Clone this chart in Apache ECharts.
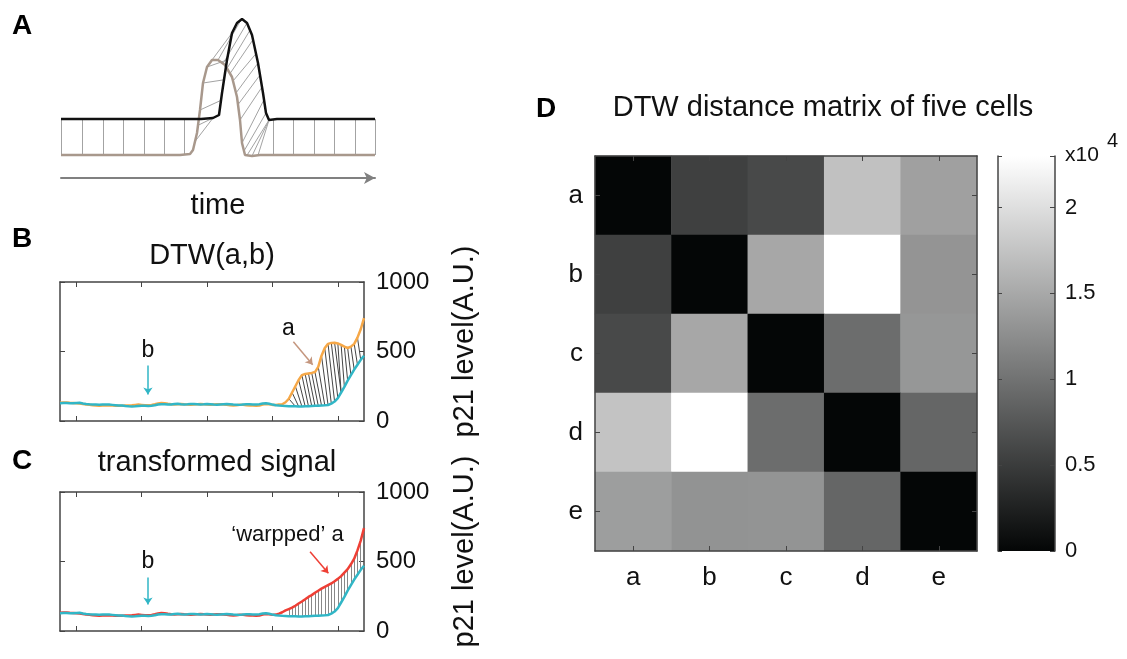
<!DOCTYPE html>
<html>
<head>
<meta charset="utf-8">
<title>DTW figure</title>
<script src="https://cdn.jsdelivr.net/npm/echarts@6/dist/echarts.min.js"></script>
<style>
  html, body { margin: 0; padding: 0; background: #fff; }
  #main { width: 1127px; height: 659px; }
</style>
</head>
<body>
<div id="main"></div>
<script>
// ---- panel A: two toy signals [time, level] and their matching (brown time -> black time)
var toyBlack = [[0,41],[140,41],[152,42],[158,45],[161,67],[166,100],[171,127],[176,137],[181,141],[186,137],[191,125],[197,97],[202,67],[205,47],[208,40],[216,41],[314,41]];
var toyBrown = [[0,5],[119,5],[129,6],[132,10],[136,27],[139,50],[142,77],[146,93],[151,100],[157,100],[164,95],[171,83],[176,63],[179,40],[181,17],[184,5],[191,4],[199,5],[314,5]];
var toyPath = [[0,0],[21,21],[42,42],[62,62],[83,83],[103,103],[123,123],[134,152],[137,157],[139,160],[142,163],[146,166],[151,171],[157,180],[162,186],[166,189],[169,192],[172,195],[175,197],[177,199],[179,201],[181,203],[183,205],[186,208],[191,208],[197,208],[212,212],[232,232],[253,253],[273,273],[294,294],[314,314]];

// ---- panels B, C: p21 level per frame
var signalB = [128,129,130,128,127,129,131,126,122,120,
  119,118,117,118,119,118,116,114,112,111,
  108,106,105,106,108,110,109,108,110,113,
  119,121,120,118,119,122,124,121,119,120,
  122,123,121,119,120,122,121,118,117,119,
  121,122,120,118,117,116,119,121,120,118,
  118,121,126,128,124,118,114,111,109,108,
  107,106,106,105,105,106,107,108,109,110,
  112,113,115,125,140,165,205,245,290,330,
  370,405,440,470];
var signalA = [132,134,133,131,130,128,125,122,119,117,
  114,112,110,111,113,112,111,110,109,110,
  112,111,113,116,118,116,114,113,116,120,
  126,130,128,124,121,119,121,123,120,118,
  117,119,121,122,120,118,117,119,121,120,
  118,116,113,112,114,117,116,114,112,111,
  110,112,118,122,120,116,116,118,120,135,
  160,205,250,295,330,338,342,346,352,390,
  470,525,555,562,563,558,548,535,525,535,
  555,600,660,740];
var signalAWarped = [132,134,133,131,130,128,125,122,119,117,
  114,112,110,111,113,112,111,110,109,110,
  112,111,113,116,118,116,114,113,116,120,
  126,130,128,124,121,119,121,123,120,118,
  117,119,121,122,120,118,117,119,121,120,
  118,116,113,112,114,117,116,114,112,111,
  110,112,118,122,120,116,118,125,135,148,
  158,168,182,198,212,228,245,258,275,290,
  305,318,330,342,358,375,395,420,445,480,
  520,580,650,740];
var pathB = [[70,72],[71,73],[72,74],[73,75],[74,76],[75,77],[76,78],[77,79],[78,80],[79,81],[80,82],[81,83],[82,84],[83,85],[84,86],[85,86],[86,87],[87,88],[88,89],[89,90],[90,91],[91,92]];
var pathC = [70,71,72,73,74,75,76,77,78,79,80,81,82,83,84,85,86,87,88,89,90,91,92];
var frameTicks = [5, 25, 45, 65, 85];

// annotation anchors [frame, level]
var noteB = { b: [26.9, 505], bArrow: [[26.9, 400], [26.9, 190]], a: [69.9, 662], aArrow: [[71.4, 570], [77.3, 405]] };
var noteC = { b: [26.9, 500], bArrow: [[26.9, 385], [26.9, 190]], a: [69.6, 690], aArrow: [[76.5, 570], [82.1, 415]] };

// ---- panel D: DTW distance matrix
var cells = ['a', 'b', 'c', 'd', 'e'];
var dtwMatrix = [
  [0, 5400, 6200, 17300, 14250],
  [5400, 0, 14900, 23000, 13150],
  [6200, 14900, 0, 9550, 13400],
  [17500, 23000, 9550, 0, 8850],
  [14050, 13000, 13100, 8850, 0]
];
var colorbarMax = 23000;

var FONT = '"Liberation Sans", Arial, Helvetica, sans-serif';
var CYAN = '#31b6c6', ORANGE = '#f6a848', RED = '#ee3f35', TAN = '#c4967e';
var FRAME = { show: true, onZero: false, lineStyle: { color: '#444', width: 1.5 } };

function lerpCurve(curve, x) {
  for (var i = 1; i < curve.length; i++) {
    if (x <= curve[i][0]) {
      var p = curve[i - 1], q = curve[i];
      return p[1] + (q[1] - p[1]) * (x - p[0]) / (q[0] - p[0]);
    }
  }
  return curve[curve.length - 1][1];
}
function indexed(arr) {
  return arr.map(function(v, i) { return [i, v]; });
}

var toyLines = toyPath.map(function(p) {
  return { coords: [[p[0], lerpCurve(toyBrown, p[0])], [p[1], lerpCurve(toyBlack, p[1])]] };
});
var hatchB = pathB.map(function(p) {
  return { coords: [[p[0], signalA[p[0]]], [p[1], signalB[p[1]]]] };
});
var hatchC = pathC.map(function(i) {
  return { coords: [[i, signalAWarped[i]], [i, signalB[i]]] };
});
var heatData = [];
for (var r = 0; r < cells.length; r++) {
  for (var c = 0; c < cells.length; c++) {
    heatData.push([c, r, dtwMatrix[r][c]]);
  }
}

function frameAxis(grid, pos) {
  return {
    type: 'value', gridIndex: grid, position: pos, min: 0, max: 93,
    axisLine: FRAME,
    axisTick: { show: true, inside: true, length: 5, customValues: frameTicks, lineStyle: { color: '#444' } },
    axisLabel: { show: false }, splitLine: { show: false }
  };
}
function levelAxis(grid, pos, named) {
  var ax = {
    type: 'value', gridIndex: grid, position: pos, min: 0, max: 1000, interval: 500,
    axisLine: FRAME,
    axisTick: { show: true, inside: true, length: 5, lineStyle: { color: '#444' } },
    axisLabel: { show: named, margin: 12, fontSize: 24, color: '#111', fontFamily: FONT,
      formatter: function(v) { return String(v); } },
    splitLine: { show: false }
  };
  if (named) {
    ax.name = 'p21 level(A.U.)';
    ax.nameLocation = 'middle';
    ax.nameRotate = 90;
    ax.nameGap = 86;
    ax.nameTextStyle = { fontSize: 29, color: '#111', fontFamily: FONT, padding: [0, 0, 0, 20] };
  }
  return ax;
}
function hatch(data, x, y, color) {
  return { type: 'lines', coordinateSystem: 'cartesian2d', xAxisIndex: x, yAxisIndex: y, silent: true, z: 1,
    lineStyle: { color: color, width: 1, opacity: 1 }, data: data };
}
function noteLines(note, colorB, colorA, x, y) {
  return {
    type: 'lines', coordinateSystem: 'cartesian2d', xAxisIndex: x, yAxisIndex: y,
    symbol: ['none', 'arrow'], symbolSize: 7, silent: true, z: 4,
    data: [
      { coords: note.bArrow, lineStyle: { color: colorB, width: 1.5, opacity: 1 } },
      { coords: note.aArrow, lineStyle: { color: colorA, width: 1.5, opacity: 1 } }
    ]
  };
}
function noteText(note, aText, size, x, y) {
  return {
    type: 'scatter', xAxisIndex: x, yAxisIndex: y, symbolSize: 0, silent: true, z: 5,
    itemStyle: { color: '#111', opacity: 1 },
    label: { show: true, position: 'inside', color: '#111', opacity: 1, fontFamily: FONT },
    data: [
      { value: note.b, label: { formatter: 'b', fontSize: 23 } },
      { value: note.a, label: { formatter: aText, fontSize: size } }
    ]
  };
}
function letter(t, left, top) {
  return { text: t, left: left, top: top, padding: 0,
    textStyle: { fontSize: 28, fontWeight: 'bold', color: '#000', fontFamily: FONT } };
}
function heading(t, left, top, size) {
  return { text: t, left: left, top: top, padding: 0, textAlign: left > 1000 ? 'left' : 'center',
    textStyle: { fontSize: size, fontWeight: 'normal', color: '#111', fontFamily: FONT } };
}

var chart = echarts.init(document.getElementById('main'));
var option = {
  animation: false,
  backgroundColor: '#fff',
  textStyle: { fontFamily: FONT },
  title: [
    letter('A', 12, 12), letter('B', 12, 225), letter('C', 12, 447), letter('D', 536, 95),
    heading('DTW(a,b)', 212, 241, 29),
    heading('transformed signal', 217, 448, 29),
    heading('DTW distance matrix of five cells', 823, 93, 29),
    heading('x10', 1065, 145, 21),
    heading('4', 1107, 131, 20)
  ],
  grid: [
    { left: 61, top: 15, width: 314, height: 145 },
    { left: 60, top: 282, width: 304, height: 139 },
    { left: 60, top: 492, width: 304, height: 139 },
    { left: 595, top: 156, width: 382, height: 395 },
    { left: 998, top: 156, width: 57, height: 395 }
  ],
  xAxis: [
    {
      type: 'value', gridIndex: 0, min: 0, max: 314, offset: 18,
      axisLine: { show: true, onZero: false, symbol: ['none', 'arrow'], symbolSize: [9, 11], lineStyle: { color: '#808080', width: 2 } },
      axisTick: { show: false }, axisLabel: { show: false }, splitLine: { show: false },
      name: 'time', nameLocation: 'middle', nameGap: 13,
      nameTextStyle: { fontSize: 29, color: '#111', fontFamily: FONT }
    },
    frameAxis(1, 'bottom'), frameAxis(1, 'top'),
    frameAxis(2, 'bottom'), frameAxis(2, 'top'),
    {
      type: 'category', gridIndex: 3, position: 'bottom', data: cells, z: 5,
      axisLine: FRAME,
      axisTick: { show: true, inside: true, alignWithLabel: true, length: 5, lineStyle: { color: '#444' } },
      axisLabel: { margin: 14, fontSize: 26, color: '#111', fontFamily: FONT }
    },
    {
      type: 'category', gridIndex: 3, position: 'top', data: cells, z: 5,
      axisLine: FRAME,
      axisTick: { show: true, inside: true, alignWithLabel: true, length: 5, lineStyle: { color: '#444' } },
      axisLabel: { show: false }
    },
    {
      type: 'category', gridIndex: 4, data: ['scale'], show: false
    }
  ],
  yAxis: [
    { type: 'value', gridIndex: 0, min: 0, max: 145, show: false },
    levelAxis(1, 'right', true), levelAxis(1, 'left', false),
    levelAxis(2, 'right', true), levelAxis(2, 'left', false),
    {
      type: 'category', gridIndex: 3, position: 'left', data: cells, inverse: true, z: 5,
      axisLine: FRAME,
      axisTick: { show: true, inside: true, alignWithLabel: true, length: 5, lineStyle: { color: '#444' } },
      axisLabel: { margin: 12, fontSize: 26, color: '#111', fontFamily: FONT }
    },
    {
      type: 'category', gridIndex: 3, position: 'right', data: cells, inverse: true, z: 5,
      axisLine: FRAME,
      axisTick: { show: true, inside: true, alignWithLabel: true, length: 5, lineStyle: { color: '#444' } },
      axisLabel: { show: false }
    },
    {
      type: 'value', gridIndex: 4, position: 'right', min: 0, max: colorbarMax, interval: 5000, z: 5,
      axisLine: FRAME,
      axisTick: { show: true, inside: true, length: 5, lineStyle: { color: '#444' } },
      axisLabel: {
        margin: 10, fontSize: 22, color: '#111', fontFamily: FONT,
        formatter: function(v) { return v % 5000 === 0 ? String(v / 10000) : ''; }
      },
      splitLine: { show: false }
    },
    {
      type: 'value', gridIndex: 4, position: 'left', min: 0, max: colorbarMax, interval: 5000, z: 5,
      axisLine: FRAME,
      axisTick: { show: true, inside: true, length: 4, lineStyle: { color: '#444' } },
      axisLabel: { show: false }, splitLine: { show: false }
    }
  ],
  visualMap: [{
    type: 'continuous', show: false, min: 0, max: colorbarMax, seriesIndex: 13,
    inRange: { color: ['#040606', '#ffffff'] }
  }],
  series: [
    // A
    hatch(toyLines, 0, 0, '#a3a3a3'),
    { type: 'line', xAxisIndex: 0, yAxisIndex: 0, showSymbol: false, silent: true,
      lineStyle: { color: '#a8988c', width: 2.5 }, data: toyBrown },
    { type: 'line', xAxisIndex: 0, yAxisIndex: 0, showSymbol: false, silent: true,
      lineStyle: { color: '#111', width: 2.5 }, data: toyBlack },
    // B
    hatch(hatchB, 1, 1, '#444'),
    { type: 'line', xAxisIndex: 1, yAxisIndex: 1, showSymbol: false, silent: true,
      lineStyle: { color: ORANGE, width: 2.5 }, data: indexed(signalA) },
    { type: 'line', xAxisIndex: 1, yAxisIndex: 1, showSymbol: false, silent: true,
      lineStyle: { color: CYAN, width: 2.5 }, data: indexed(signalB) },
    noteLines(noteB, CYAN, TAN, 1, 1),
    noteText(noteB, 'a', 23, 1, 1),
    // C
    hatch(hatchC, 3, 3, '#888'),
    { type: 'line', xAxisIndex: 3, yAxisIndex: 3, showSymbol: false, silent: true,
      lineStyle: { color: RED, width: 2.5 }, data: indexed(signalAWarped) },
    { type: 'line', xAxisIndex: 3, yAxisIndex: 3, showSymbol: false, silent: true,
      lineStyle: { color: CYAN, width: 2.5 }, data: indexed(signalB) },
    noteLines(noteC, CYAN, RED, 3, 3),
    noteText(noteC, '\u2018warpped\u2019 a', 22, 3, 3),
    // D
    { type: 'heatmap', xAxisIndex: 5, yAxisIndex: 5, silent: true, data: heatData },
    { type: 'bar', xAxisIndex: 7, yAxisIndex: 7, barWidth: '100%', silent: true,
      itemStyle: { color: { type: 'linear', x: 0, y: 0, x2: 0, y2: 1,
        colorStops: [{ offset: 0, color: '#ffffff' }, { offset: 1, color: '#040606' }] } },
      data: [colorbarMax] }
  ]
};
chart.setOption(option);
</script>
</body>
</html>
